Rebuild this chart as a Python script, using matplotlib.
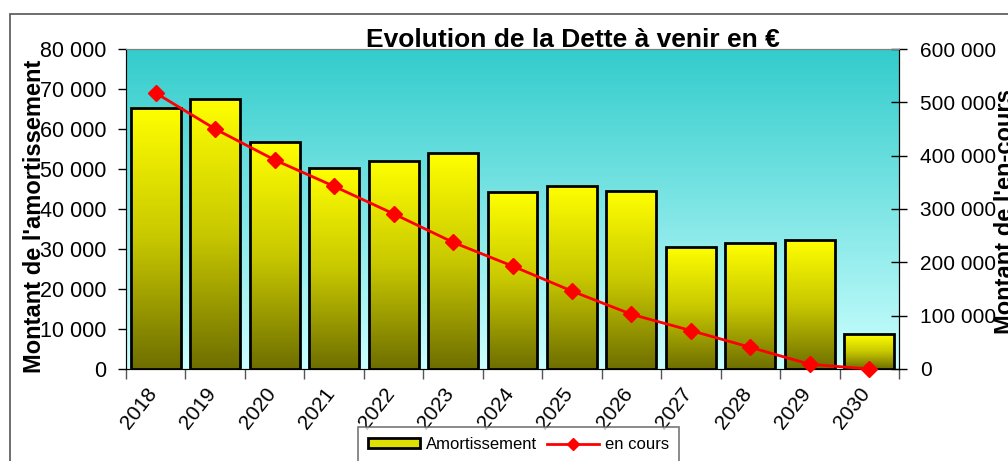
import matplotlib
matplotlib.use("Agg")
import matplotlib.pyplot as plt
import numpy as np
from matplotlib.colors import LinearSegmentedColormap
from matplotlib.patches import Patch, Rectangle
from matplotlib.lines import Line2D
from matplotlib.ticker import FuncFormatter
from matplotlib.transforms import ScaledTranslation

plt.rcParams['font.family'] = ['Liberation Sans', 'DejaVu Sans']

years = ['2018', '2019', '2020', '2021', '2022', '2023', '2024',
         '2025', '2026', '2027', '2028', '2029', '2030']
amortissement = [65300, 67600, 56700, 50200, 52100, 54000, 44200,
                 45800, 44500, 30600, 31400, 32200, 8700]
en_cours = [517500, 450000, 392000, 342500, 291000, 237500, 193000,
            146000, 102500, 72000, 40600, 8800, 0]


def thousands(v, pos):
    return f"{int(v):,}".replace(",", " ")


fig = plt.figure(figsize=(10.08, 4.61), dpi=100)
ax = fig.add_axes([0.125, 0.1996, 0.7669, 0.6941])
ax2 = ax.twinx()

# background gradient of the plot area
bg = LinearSegmentedColormap.from_list('bg', ['#ccffff', '#33cccc'])
grad = np.linspace(0, 1, 256).reshape(-1, 1)
ax.imshow(grad, cmap=bg, origin='lower', aspect='auto',
          extent=(0, 1, 0, 1), transform=ax.transAxes, zorder=0)

# bars with vertical gradient
barcm = LinearSegmentedColormap.from_list('bar', ['#6e6e00', '#c8c800', '#ffff00'])
x = np.arange(len(years))
w = 0.84
for xi, h in zip(x, amortissement):
    ax.imshow(grad, cmap=barcm, origin='lower', aspect='auto',
              extent=(xi - w / 2, xi + w / 2, 0, h), zorder=1)
ax.bar(x, amortissement, width=w, facecolor='none', edgecolor='black',
       linewidth=2, zorder=2)

ax.set_xlim(-0.5, len(years) - 0.5)
ax.set_ylim(0, 80000)
ax.set_yticks(np.arange(0, 80001, 10000))
ax.yaxis.set_major_formatter(FuncFormatter(thousands))
ax.tick_params(axis='y', labelsize=15.5, length=6, width=1, direction='out',
               pad=8)

ax.set_xticks(np.arange(-0.5, len(years), 1.0))
ax.set_xticklabels([])
ax.set_xticks(x, minor=True)
ax.set_xticklabels(years, minor=True, rotation=52, ha='right', va='top',
                   fontsize=15)
ax.tick_params(axis='x', which='major', length=7, width=1, direction='out', color='#555555')
ax.tick_params(axis='x', which='minor', length=0, pad=11)
shift = ScaledTranslation(5 / 100, 0, fig.dpi_scale_trans)
for lab in ax.get_xticklabels(minor=True):
    lab.set_transform(lab.get_transform() + shift)

ax.spines['top'].set_color('#808080')
ax.spines['left'].set_color('#555555')
ax.spines['bottom'].set_color('#555555')

# line on secondary axis
ax2.plot(x, en_cours, color='red', linewidth=2, marker='D', markersize=8,
         clip_on=False, zorder=5)
ax2.set_ylim(0, 600000)
ax2.set_yticks(np.arange(0, 600001, 100000))
ax2.yaxis.set_major_formatter(FuncFormatter(thousands))
ax2.tick_params(axis='y', labelsize=15, length=12, width=1, direction='inout',
                pad=9)
ax2.spines['top'].set_color('#808080')
ax2.spines['right'].set_color('black')

fig.text(35 / 1008, 0.53, "Montant de l'amortissement", rotation=90,
         fontsize=17, fontweight='bold', ha='center', va='center')
fig.text(1006 / 1008, 0.54, "Montant de l'en-cours", rotation=90, fontsize=17,
         fontweight='bold', ha='center', va='center')

fig.text(573 / 1008, (461 - 40) / 461, "Evolution de la Dette à venir en €",
         fontsize=19, fontweight='bold', ha='center', va='center')

# outer chart border
fig.patches.append(Rectangle((10 / 1008, -0.1), 1.2, (461 - 14) / 461 + 0.1,
                             transform=fig.transFigure, fill=False,
                             edgecolor='#555555', linewidth=1.2))

handles = [Patch(facecolor='#e0e000', edgecolor='black', linewidth=2),
           Line2D([0], [0], color='red', linewidth=2, marker='D', markersize=6)]
leg = fig.legend(handles, ['Amortissement', 'en cours'], loc='upper left',
                 bbox_to_anchor=(358 / 1008, (461 - 427) / 461), ncol=2,
                 fontsize=12, frameon=True, fancybox=False,
                 edgecolor='#555555', borderpad=0.6, borderaxespad=0,
                 handlelength=3.1, handleheight=0.5,
                 columnspacing=0.65, handletextpad=0.35)
leg.get_frame().set_linewidth(1.2)

fig.savefig('out.png', dpi=100)
